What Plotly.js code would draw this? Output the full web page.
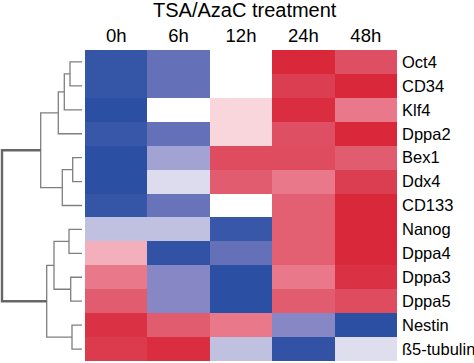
<!DOCTYPE html>
<html>
<head>
<meta charset="utf-8">
<script src="https://cdn.plot.ly/plotly-3.0.1.min.js"></script>
<style>html,body{margin:0;padding:0;background:#fff}#chart{width:474px;height:363px}</style>
</head>
<body>
<div id="chart"></div>
<script>
// ---- data ----
const timepoints = ["0h", "6h", "12h", "24h", "48h"];
const genes = ["Oct4", "CD34", "Klf4", "Dppa2", "Bex1", "Ddx4", "CD133", "Nanog", "Dppa4", "Dppa3", "Dppa5", "Nestin", "ß5-tubulin"];
const expr_0h  = [-0.95, -0.95, -1.0, -0.93, -1.0, -1.0, -0.95, -0.26, 0.30, 0.55, 0.70, 0.95, 0.90];
const expr_6h  = [-0.70, -0.70, 0.0, -0.70, -0.40, -0.13, -0.68, -0.26, -0.97, -0.55, -0.55, 0.70, 0.97];
const expr_12h = [0.0, 0.0, 0.15, 0.15, 0.80, 0.70, 0.0, -0.93, -0.70, -1.0, -1.0, 0.55, -0.26];
const expr_24h = [1.0, 0.88, 0.97, 0.78, 0.80, 0.55, 0.68, 0.68, 0.68, 0.55, 0.70, -0.55, -0.97];
const expr_48h = [0.78, 1.0, 0.55, 1.0, 0.70, 0.88, 1.0, 1.0, 1.0, 0.95, 0.80, -1.0, -0.12];
// hierarchical clustering merges: [childA, childB, height]; leaves 0..12, new clusters 13..
const mergeA = [0, 13, 14, 4, 16, 15, 7, 9, 19, 11, 21, 18];
const mergeB = [1, 2, 3, 5, 6, 17, 8, 10, 20, 12, 22, 23];
const mergeH = [12, 17.7, 23.7, 9.3, 19.7, 41.3, 13, 11.3, 28, 10, 35.3, 80];

// ---- build matrix ----
const cols = [expr_0h, expr_6h, expr_12h, expr_24h, expr_48h];
const z = genes.map((g, i) => cols.map(c => c[i]));

const cs = [
  [-1, '#2b4fa3'], [-0.7, '#6470b8'], [-0.55, '#8787c6'], [-0.4, '#a3a3d3'],
  [-0.25, '#c2c2e2'], [-0.1, '#e2e2f1'], [0, '#ffffff'], [0.15, '#f9d6dc'],
  [0.3, '#f3b0bc'], [0.55, '#e8788a'], [0.7, '#e25c70'], [0.85, '#dd4457'], [1, '#d9283a']
].map(s => [(s[0] + 1) / 2, s[1]]);

// ---- dendrogram coordinates ----
const nodeY = genes.map((g, i) => i);
const nodeH = genes.map(() => 0);
const dx = [], dy = [], rx = [], ry = [];
for (let k = 0; k < mergeA.length; k++) {
  const a = mergeA[k], b = mergeB[k], h = mergeH[k];
  const isRoot = k === mergeA.length - 1;
  const X = isRoot ? rx : dx, Y = isRoot ? ry : dy;
  X.push(nodeH[a], h, h, nodeH[b], null);
  Y.push(nodeY[a], nodeY[a], nodeY[b], nodeY[b], null);
  nodeY.push((nodeY[a] + nodeY[b]) / 2);
  nodeH.push(h);
}

const W = 474, H = 363;
const font = "Liberation Sans, Arial, Helvetica, sans-serif";

const traces = [
  {
    type: 'heatmap',
    z: z,
    x: timepoints.map((t, i) => i),
    y: genes.map((g, i) => i),
    colorscale: cs,
    zmin: -1, zmax: 1,
    showscale: false,
    xaxis: 'x', yaxis: 'y',
    hoverinfo: 'skip'
  },
  {
    type: 'scatter', mode: 'lines',
    x: dx, y: dy, xaxis: 'x2', yaxis: 'y',
    line: {color: '#7f7f7f', width: 1.3},
    hoverinfo: 'skip', showlegend: false, cliponaxis: false
  },
  {
    type: 'scatter', mode: 'lines',
    x: rx, y: ry, xaxis: 'x2', yaxis: 'y',
    line: {color: '#666666', width: 2.4},
    hoverinfo: 'skip', showlegend: false, cliponaxis: false
  }
];

const layout = {
  width: W, height: H,
  margin: {l: 0, r: 0, t: 0, b: 0},
  paper_bgcolor: '#fff', plot_bgcolor: 'rgba(0,0,0,0)',
  showlegend: false,
  font: {family: font, color: '#000'},
  xaxis: {
    domain: [85 / W, 397 / W], range: [-0.5, 4.5], side: 'top',
    tickvals: timepoints.map((t, i) => i), ticktext: timepoints,
    tickfont: {size: 18.5, color: '#000'}, ticks: '', showgrid: false, zeroline: false,
    showline: false, ticklabelstandoff: 3, fixedrange: true
  },
  yaxis: {
    domain: [1 - 361 / H, 1 - 50 / H], range: [12.5, -0.5], side: 'right',
    tickvals: genes.map((g, i) => i), ticktext: genes,
    tickfont: {size: 16.5, color: '#000'}, ticks: '', showgrid: false, zeroline: false,
    showline: false, ticklabelstandoff: 4, fixedrange: true
  },
  xaxis2: {
    domain: [0, 82 / W], range: [82, 0], anchor: 'y',
    visible: false, showgrid: false, zeroline: false, fixedrange: true
  },
  annotations: [{
    text: 'TSA/AzaC treatment', xref: 'paper', yref: 'paper',
    x: 245.5 / W, y: 1 - 10 / H, xanchor: 'center', yanchor: 'middle',
    showarrow: false, font: {size: 20, family: font, color: '#000'}
  }]
};

Plotly.newPlot('chart', traces, layout, {staticPlot: true, displayModeBar: false});
</script>
</body>
</html>
